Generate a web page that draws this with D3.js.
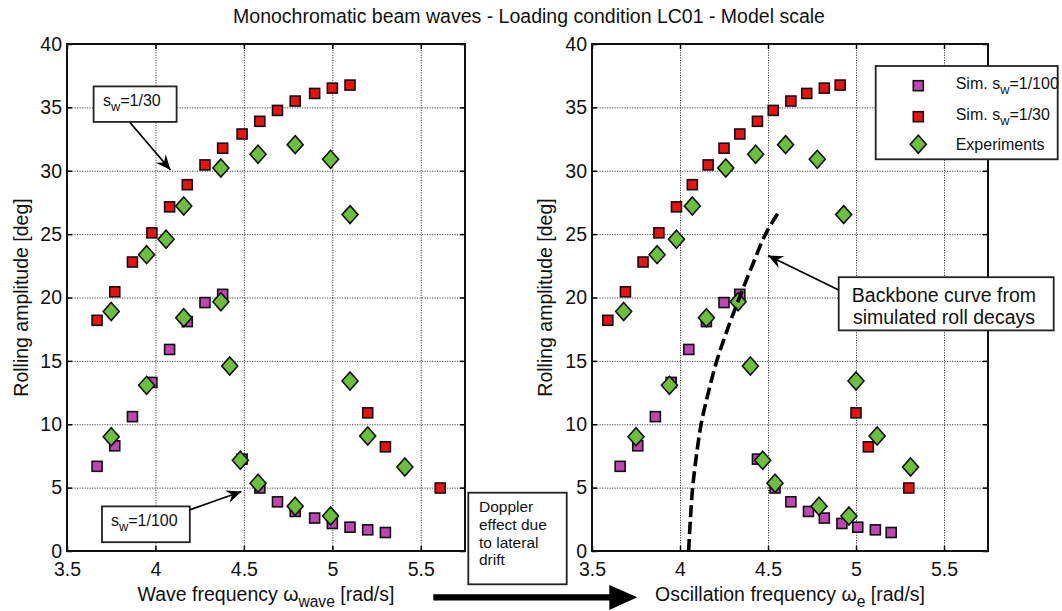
<!DOCTYPE html>
<html>
<head>
<meta charset="utf-8">
<script src="https://cdn.jsdelivr.net/npm/d3@7"></script>
<style>
  body { margin: 0; background: #fff; }
  svg { display: block; font-family: "Liberation Sans", Arial, Helvetica, sans-serif; }
</style>
</head>
<body>
<div id="chart"></div>
<script>
// Rolling amplitude vs frequency, beam waves LC01
const xTickValues = [3.5, 4, 4.5, 5, 5.5];
const yTickValues = [0, 5, 10, 15, 20, 25, 30, 35, 40];

// Sim. sw=1/30
const amp30 = [18.2, 20.45, 22.8, 25.1, 27.15, 28.9, 30.46, 31.78, 32.9, 33.9, 34.76, 35.5, 36.1, 36.52, 36.76, 10.9, 8.22, 4.97];
const wave30 = [3.67, 3.77, 3.87, 3.98, 4.08, 4.18, 4.28, 4.38, 4.49, 4.59, 4.69, 4.79, 4.90, 5.00, 5.10, 5.20, 5.30, 5.61];
const osc30 = [3.59, 3.69, 3.79, 3.88, 3.98, 4.07, 4.16, 4.25, 4.34, 4.44, 4.53, 4.63, 4.72, 4.82, 4.91, 5.00, 5.07, 5.30];

// Sim. sw=1/100
const amp100 = [6.68, 8.3, 10.6, 13.3, 15.9, 18.1, 19.6, 20.25, 7.25, 4.97, 3.88, 3.12, 2.6, 2.17, 1.88, 1.67, 1.46];
const wave100 = [3.67, 3.77, 3.87, 3.98, 4.08, 4.18, 4.28, 4.38, 4.49, 4.59, 4.69, 4.79, 4.90, 5.00, 5.10, 5.20, 5.30];
const osc100 = [3.66, 3.76, 3.86, 3.95, 4.05, 4.15, 4.25, 4.34, 4.44, 4.54, 4.63, 4.73, 4.82, 4.92, 5.01, 5.11, 5.20];

// Experiments
const ampExp = [18.9, 23.38, 24.6, 27.22, 30.22, 31.3, 32.06, 30.9, 26.54, 13.41, 9.07, 6.63, 9.02, 13.07, 18.4, 19.67, 14.6, 7.16, 5.34, 3.53, 2.76];
const waveExp = [3.75, 3.95, 4.06, 4.16, 4.37, 4.58, 4.79, 4.99, 5.10, 5.10, 5.20, 5.41, 3.75, 3.95, 4.16, 4.37, 4.42, 4.48, 4.58, 4.79, 4.99];
const oscExp = [3.68, 3.87, 3.98, 4.07, 4.26, 4.43, 4.60, 4.78, 4.93, 5.00, 5.12, 5.31, 3.75, 3.94, 4.15, 4.33, 4.40, 4.47, 4.54, 4.79, 4.96];

// Backbone curve from simulated roll decays
const backboneAmp = [0, 2.5, 5, 7.5, 10, 12.5, 15, 17.5, 20, 22.5, 25, 26.85];
const backboneFreq = [4.049, 4.059, 4.072, 4.093, 4.12, 4.161, 4.209, 4.27, 4.338, 4.41, 4.486, 4.566];

const width = 1062, height = 611;
const plotTop = 44, plotBottom = 551;
const colPink = "#bf45b3", colRed = "#ee1010", colGreen = "#6cbf3a";

const svg = d3.select("#chart").append("svg")
    .attr("width", width)
    .attr("height", height);

const defs = svg.append("defs");
defs.append("marker")
    .attr("id", "head")
    .attr("markerUnits", "userSpaceOnUse")
    .attr("viewBox", "-16 -8 18 16")
    .attr("refX", 0).attr("refY", 0)
    .attr("markerWidth", 18).attr("markerHeight", 16)
    .attr("orient", "auto")
    .append("path")
    .attr("d", "M0,0 L-15,-6.5 L-10,0 L-15,6.5 Z")
    .attr("fill", "#000");

svg.append("text")
    .attr("x", 529)
    .attr("y", 23)
    .attr("text-anchor", "middle")
    .attr("font-size", "19.5px")
    .attr("fill", "#111")
    .text("Monochromatic beam waves - Loading condition LC01 - Model scale");

function subText(g, x, y, parts, size, anchor) {
    const t = g.append("text")
        .attr("x", x).attr("y", y)
        .attr("font-size", size + "px")
        .attr("fill", "#111")
        .attr("text-anchor", anchor || "start");
    let shift = 0;
    parts.forEach(p => {
        const s = p.sub ? Math.round(size * 0.3) : 0;
        t.append("tspan")
            .attr("dy", s - shift)
            .attr("font-size", (p.sub ? size * 0.8 : size) + "px")
            .text(p.t);
        shift = s;
    });
    return t;
}

function drawPanel(left, right, xs30, xs100, xsExp, labelParts, yLabelX) {
    const x = d3.scaleLinear().domain([3.5, 5.75]).range([left, right]);
    const y = d3.scaleLinear().domain([0, 40]).range([plotBottom, plotTop]);
    const g = svg.append("g");
    const h = plotBottom - plotTop, w = right - left;

    // grid
    const gx = g.append("g")
        .attr("transform", `translate(0,${plotBottom})`)
        .call(d3.axisBottom(x).tickValues(xTickValues).tickSize(-h).tickPadding(11).tickFormat(d => d));
    gx.select(".domain").remove();
    gx.selectAll(".tick line").attr("stroke", "#444").attr("stroke-dasharray", "1.2,1.3");
    gx.selectAll(".tick text").attr("font-size", "19.5px").attr("fill", "#111").attr("font-family", "inherit");

    const gy = g.append("g")
        .attr("transform", `translate(${left},0)`)
        .call(d3.axisLeft(y).tickValues(yTickValues).tickSize(-w).tickPadding(5));
    gy.select(".domain").remove();
    gy.selectAll(".tick line").attr("stroke", "#444").attr("stroke-dasharray", "1.2,1.3");
    gy.selectAll(".tick text").attr("font-size", "19.5px").attr("fill", "#111").attr("font-family", "inherit");

    // inward ticks on all sides
    const tickLen = 5;
    [
        [d3.axisBottom(x).tickValues(xTickValues), `translate(0,${plotBottom})`],
        [d3.axisTop(x).tickValues(xTickValues), `translate(0,${plotTop})`]
    ].forEach(([ax, tr]) => {
        const a = g.append("g").attr("transform", tr).call(ax.tickSize(-tickLen).tickFormat(""));
        a.select(".domain").remove();
        a.selectAll("line").attr("stroke", "#000").attr("stroke-width", 1.5);
    });
    [
        [d3.axisLeft(y).tickValues(yTickValues), `translate(${left},0)`],
        [d3.axisRight(y).tickValues(yTickValues), `translate(${right},0)`]
    ].forEach(([ax, tr]) => {
        const a = g.append("g").attr("transform", tr).call(ax.tickSize(-tickLen).tickFormat(""));
        a.select(".domain").remove();
        a.selectAll("line").attr("stroke", "#000").attr("stroke-width", 1.5);
    });

    g.append("rect")
        .attr("x", left).attr("y", plotTop)
        .attr("width", w).attr("height", h)
        .attr("fill", "none")
        .attr("stroke", "#111")
        .attr("stroke-width", 2);

    // markers
    const sq = 10;
    g.append("g").selectAll("rect")
        .data(amp100.map((a, i) => [xs100[i], a]))
        .join("rect")
        .attr("x", d => x(d[0]) - sq / 2).attr("y", d => y(d[1]) - sq / 2)
        .attr("width", sq).attr("height", sq)
        .attr("fill", colPink).attr("stroke", "#111").attr("stroke-width", 1.6);

    g.append("g").selectAll("rect")
        .data(amp30.map((a, i) => [xs30[i], a]))
        .join("rect")
        .attr("x", d => x(d[0]) - sq / 2).attr("y", d => y(d[1]) - sq / 2)
        .attr("width", sq).attr("height", sq)
        .attr("fill", colRed).attr("stroke", "#111").attr("stroke-width", 1.6);

    g.append("g").selectAll("path")
        .data(ampExp.map((a, i) => [xsExp[i], a]))
        .join("path")
        .attr("d", d => {
            const cx = x(d[0]), cy = y(d[1]);
            return `M${cx},${cy - 9} L${cx + 8},${cy} L${cx},${cy + 9} L${cx - 8},${cy} Z`;
        })
        .attr("fill", colGreen).attr("stroke", "#111").attr("stroke-width", 1.6);

    // labels
    subText(g, (left + right) / 2, 601, labelParts, 19.5, "middle");
    g.append("text")
        .attr("transform", `translate(${yLabelX},${(plotTop + plotBottom) / 2}) rotate(-90)`)
        .attr("text-anchor", "middle")
        .attr("font-size", "19.5px")
        .attr("fill", "#111")
        .text("Rolling amplitude [deg]");

    return { g, x, y };
}

const L = drawPanel(67, 465, wave30, wave100, waveExp,
    [{ t: "Wave frequency \u03c9" }, { t: "wave", sub: true }, { t: " [rad/s]" }], 28);
const R = drawPanel(592, 988, osc30, osc100, oscExp,
    [{ t: "Oscillation frequency \u03c9" }, { t: "e", sub: true }, { t: " [rad/s]" }], 552);

// backbone curve
R.g.append("path")
    .datum(backboneAmp.map((a, i) => [backboneFreq[i], a]))
    .attr("d", d3.line().x(d => R.x(d[0])).y(d => R.y(d[1])).curve(d3.curveCatmullRom))
    .attr("fill", "none")
    .attr("stroke", "#000")
    .attr("stroke-width", 3.6)
    .attr("stroke-dasharray", "12,5");

// annotation boxes
function box(x0, y0, w, h) {
    svg.append("rect")
        .attr("x", x0).attr("y", y0).attr("width", w).attr("height", h)
        .attr("fill", "#fff").attr("stroke", "#222").attr("stroke-width", 1.8);
}
function arrow(x0, y0, x1, y1) {
    svg.append("line")
        .attr("x1", x0).attr("y1", y0).attr("x2", x1).attr("y2", y1)
        .attr("stroke", "#000").attr("stroke-width", 1.8)
        .attr("marker-end", "url(#head)");
}

box(93.6, 86.4, 83, 35.5);
subText(svg, 103, 106, [{ t: "s" }, { t: "w", sub: true }, { t: "=1/30" }], 16);
arrow(130, 122.5, 170.5, 170);

box(102, 506.4, 87.8, 35.8);
subText(svg, 111, 526, [{ t: "s" }, { t: "w", sub: true }, { t: "=1/100" }], 16);
arrow(189.8, 509.8, 241.5, 491.5);

// legend
box(875.7, 66, 182, 93.3);
const legX = 918.3;
svg.append("rect").attr("x", legX - 5).attr("y", 85.7 - 5).attr("width", 10).attr("height", 10)
    .attr("fill", colPink).attr("stroke", "#111").attr("stroke-width", 1.6);
svg.append("rect").attr("x", legX - 5).attr("y", 116.7 - 5).attr("width", 10).attr("height", 10)
    .attr("fill", colRed).attr("stroke", "#111").attr("stroke-width", 1.6);
svg.append("path")
    .attr("d", `M${legX},${144.3 - 9} L${legX + 8},144.3 L${legX},${144.3 + 9} L${legX - 8},144.3 Z`)
    .attr("fill", colGreen).attr("stroke", "#111").attr("stroke-width", 1.6);
subText(svg, 955.7, 89, [{ t: "Sim. s" }, { t: "w", sub: true }, { t: "=1/100" }], 16);
subText(svg, 955.7, 120, [{ t: "Sim. s" }, { t: "w", sub: true }, { t: "=1/30" }], 16);
subText(svg, 955.7, 150, [{ t: "Experiments" }], 16);

// backbone annotation
box(838.7, 277.2, 215, 53.2);
svg.append("text").attr("x", 944).attr("y", 301.5).attr("text-anchor", "middle")
    .attr("font-size", "19.5px").attr("fill", "#111").text("Backbone curve from");
svg.append("text").attr("x", 944).attr("y", 323.5).attr("text-anchor", "middle")
    .attr("font-size", "19.5px").attr("fill", "#111").text("simulated roll decays");
arrow(838.7, 290, 768, 255.5);

// doppler box + big arrow
box(468.3, 492.7, 98.4, 91.6);
["Doppler", "effect due", "to lateral", "drift"].forEach((s, i) => {
    svg.append("text").attr("x", 479).attr("y", 512 + i * 17.8)
        .attr("font-size", "15.5px").attr("fill", "#111").text(s);
});
svg.append("path")
    .attr("d", "M433.3,594.2 L609.3,594.2 L609.3,585 L637.3,597.3 L609.3,610 L609.3,600.5 L433.3,600.5 Z")
    .attr("fill", "#000");
</script>
</body>
</html>
